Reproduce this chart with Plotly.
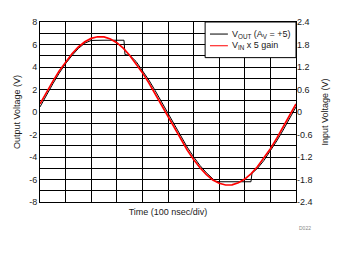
import plotly.graph_objects as go

# time in ns (100 ns/div)
t_vin = [0, 25, 50, 75, 100, 125, 150, 175, 200, 225, 250, 275, 300, 325, 350, 375, 400,
         425, 450, 475, 500, 525, 550, 575, 600, 625, 650, 675, 700, 725, 750, 775, 800,
         825, 850, 875, 900, 925, 950, 975, 1000]
vin_x5 = [0.72, 1.74, 2.72, 3.64, 4.46, 5.18, 5.78, 6.24, 6.54, 6.69, 6.67, 6.49, 6.16,
          5.67, 5.05, 4.32, 3.5, 2.6, 1.62, 0.62, -0.4, -1.42, -2.42, -3.38, -4.22, -4.96,
          -5.56, -6.04, -6.34, -6.49, -6.47, -6.29, -5.96, -5.47, -4.85, -4.1, -3.26, -2.33,
          -1.34, -0.32, 0.72]

t_vout = [0, 25, 50, 75, 100, 125, 150, 175, 190, 200, 250, 300, 328, 332, 350, 375, 400,
          425, 450, 475, 500, 525, 550, 575, 600, 625, 650, 675, 685, 700, 750, 800, 824,
          828, 850, 875, 900, 925, 950, 975, 1000]
vout = [0.45, 1.5, 2.5, 3.45, 4.3, 5.02, 5.65, 6.12, 6.3, 6.36, 6.38, 6.38, 6.38, 5.1,
        5.05, 4.5, 3.72, 2.85, 1.9, 0.9, -0.12, -1.15, -2.15, -3.12, -3.98, -4.76, -5.4,
        -5.92, -6.15, -6.2, -6.22, -6.2, -6.2, -5.45, -5.0, -4.3, -3.48, -2.57, -1.6,
        -0.58, 0.45]

series_names = ["V<sub>OUT</sub> (A<sub>V</sub> = +5)", "V<sub>IN</sub> x 5 gain"]
series_colors = ["black", "#ff0000"]
series_widths = [1, 1.7]

left_ticks = [-8, -6, -4, -2, 0, 2, 4, 6, 8]
left_labels = ["-8", "-6", "-4", "-2", "0", "2", "4", "6", "8"]
right_ticks = [-2.4, -1.8, -1.2, -0.6, 0, 0.6, 1.2, 1.8, 2.4]
right_labels = ["-2.4", "-1.8", "-1.2", "-0.6", "0", "0.6", "1.2", "1.8", "2.4"]
x_ticks = list(range(0, 1001, 100))

FONT = "Arial, Liberation Sans, sans-serif"
TXT = "#1a1a1a"

fig = go.Figure()
fig.add_trace(go.Scatter(x=t_vout, y=vout, mode="lines",
                         line=dict(color=series_colors[0], width=series_widths[0]),
                         name=series_names[0], showlegend=False))
fig.add_trace(go.Scatter(x=t_vin, y=vin_x5, mode="lines",
                         line=dict(color=series_colors[1], width=series_widths[1]),
                         name=series_names[1], showlegend=False))
fig.add_trace(go.Scatter(x=[None], y=[None], yaxis="y2", showlegend=False,
                         hoverinfo="skip"))

# custom legend (box, line samples, labels) in paper coordinates
shapes = [dict(type="rect", xref="paper", yref="paper", x0=0.645, x1=1.0, y0=0.802, y1=1.0,
               fillcolor="white", line=dict(color="black", width=1), layer="above")]
annotations = []
rows_y = [0.933, 0.868]
for name, col, yy in zip(series_names, series_colors, rows_y):
    shapes.append(dict(type="line", xref="paper", yref="paper", x0=0.664, x1=0.734,
                       y0=yy, y1=yy, line=dict(color=col, width=1), layer="above"))
    annotations.append(dict(text=name, xref="paper", yref="paper", x=0.742, y=yy,
                            xanchor="left", yanchor="middle", showarrow=False,
                            font=dict(size=9, color=TXT)))
annotations.append(dict(text="D022", xref="paper", yref="paper", x=1.066, y=-0.172,
                        showarrow=False, font=dict(size=5, color="#888888")))

fig.update_layout(
    width=342, height=254,
    margin=dict(l=40, r=46, t=22, b=52),
    paper_bgcolor="white", plot_bgcolor="white",
    font=dict(family=FONT, size=9, color=TXT),
    showlegend=False,
    xaxis=dict(range=[0, 1000], tickvals=x_ticks, showticklabels=False,
               showgrid=True, gridcolor="black", gridwidth=1,
               showline=True, linecolor="black", linewidth=1, mirror=True,
               zeroline=False, ticks="",
               title=dict(text="Time (100 nsec/div)", font=dict(size=9), standoff=6)),
    yaxis=dict(range=[-8, 8], tickvals=left_ticks, ticktext=left_labels,
               showgrid=True, gridcolor="black", gridwidth=1,
               minor=dict(dtick=1, tick0=0, showgrid=True, gridcolor="black",
                          gridwidth=1, ticks=""),
               showline=True, linecolor="black", linewidth=1, mirror=True,
               zeroline=False, ticks="",
               title=dict(text="Output Voltage (V)", font=dict(size=9), standoff=7)),
    yaxis2=dict(range=[-2.4, 2.4], tickvals=right_ticks, ticktext=right_labels,
                overlaying="y", side="right", showgrid=False, zeroline=False,
                ticks="", showline=False,
                title=dict(text="Input Voltage (V)", font=dict(size=9), standoff=10)),
    shapes=shapes,
    annotations=annotations,
)

fig.write_html("out.html")
